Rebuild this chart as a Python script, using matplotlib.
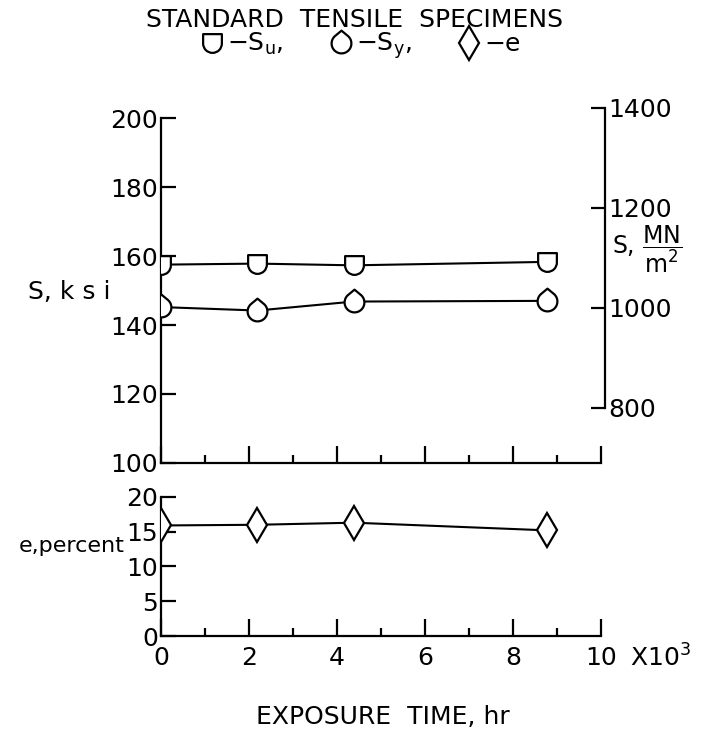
import numpy as np
import matplotlib
matplotlib.use("Agg")
import matplotlib.pyplot as plt
from matplotlib.path import Path
from matplotlib.lines import Line2D

KSI_TO_MN = 6.895

# exposure time, thousands of hours
hours_k = [0, 2.19, 4.38, 8.76]
su_ksi = [157.5, 157.8, 157.3, 158.3]
sy_ksi = [145.2, 144.2, 146.8, 147.0]
elong_pct = [15.9, 16.0, 16.3, 15.2]

x_major = [0, 2, 4, 6, 8, 10]
x_minor = [1, 3, 5, 7, 9]
ksi_ticks = [100, 120, 140, 160, 180, 200]
mn_ticks = [800, 1000, 1200, 1400]
e_ticks = [0, 5, 10, 15, 20]

plt.rcParams['font.family'] = ['DejaVu Sans']
plt.rcParams['mathtext.fontset'] = 'dejavusans'
FS = 18


def cup_marker():
    # flat top, round bottom
    arc = Path.arc(180, 360)
    verts = [(-1, 1.0), (-1, 0)] + list(arc.vertices[1:]) + [(1, 1.0), (-1, 1.0)]
    codes = [Path.MOVETO, Path.LINETO] + list(arc.codes[1:]) + [Path.LINETO, Path.CLOSEPOLY]
    return Path(verts, codes)


def drop_marker(h=1.3):
    # pointed top, round bottom (lines tangent to the circle)
    phi = np.degrees(np.arcsin(1 / h))
    arc = Path.arc(180 - phi, 360 + phi)
    top = (0, h)
    verts = [top] + list(arc.vertices) + [top]
    codes = [Path.MOVETO, Path.LINETO] + list(arc.codes[1:]) + [Path.CLOSEPOLY]
    return Path(verts, codes)


SU_M = cup_marker()
SY_M = drop_marker()
E_M = 'd'
SU_MS, SY_MS, E_MS = 13.5, 18.5, 17

fig = plt.figure(figsize=(7.02, 7.32), dpi=100)

# ---- strength panel
ax = fig.add_axes([0.2293, 0.3675, 0.627, 0.4856])
ax.set_xlim(0, 10)
ax.set_ylim(100, 1400 / KSI_TO_MN)
ax.spines['top'].set_visible(False)
ax.spines['right'].set_visible(False)
ax.spines['left'].set_bounds(100, 200)
for s in ('left', 'bottom'):
    ax.spines[s].set_linewidth(1.6)
ax.set_yticks(ksi_ticks)
ax.tick_params(axis='y', direction='in', length=11, width=1.6, pad=2, labelsize=FS)
ax.set_xticks(x_major)
ax.set_xticks(x_minor, minor=True)
ax.tick_params(axis='x', which='major', direction='in', length=12, width=1.6, labelbottom=False)
ax.tick_params(axis='x', which='minor', direction='in', length=6, width=1.6)

line_kw = dict(color='k', lw=1.5, mfc='white', mec='k', mew=1.6, zorder=3)
ax.plot(hours_k, su_ksi, marker=SU_M, ms=SU_MS, **line_kw)
ax.plot(hours_k, sy_ksi, marker=SY_M, ms=SY_MS, **line_kw)

ax2 = ax.twinx()
ax2.set_ylim(100 * KSI_TO_MN, 1400)
for s in ('top', 'left', 'bottom'):
    ax2.spines[s].set_visible(False)
ax2.spines['right'].set_bounds(800, 1400)
ax2.spines['right'].set_position(('outward', 3))
ax2.spines['right'].set_linewidth(1.6)
ax2.set_yticks(mn_ticks)
ax2.tick_params(axis='y', direction='in', length=10, width=1.6, pad=2, labelsize=FS)

# ---- elongation panel
axe = fig.add_axes([0.2293, 0.1311, 0.627, 0.19])
axe.set_xlim(0, 10)
axe.set_ylim(0, 20)
axe.spines['top'].set_visible(False)
axe.spines['right'].set_visible(False)
for s in ('left', 'bottom'):
    axe.spines[s].set_linewidth(1.6)
axe.set_yticks(e_ticks)
axe.tick_params(axis='y', direction='in', length=11, width=1.6, pad=2, labelsize=FS)
axe.set_xticks(x_major)
axe.set_xticks(x_minor, minor=True)
axe.tick_params(axis='x', which='major', direction='in', length=12, width=1.6, pad=7, labelsize=FS)
axe.tick_params(axis='x', which='minor', direction='in', length=6, width=1.6)
axe.plot(hours_k, elong_pct, marker=E_M, ms=E_MS, **line_kw)

# ---- labels
fig.text(0.04, 0.601, 'S, k s i', fontsize=FS, va='center')
fig.text(0.027, 0.254, 'e,percent', fontsize=FS - 2, va='center')
fig.text(0.872, 0.66, r'S, $\dfrac{\mathrm{MN}}{\mathrm{m^2}}$', fontsize=FS - 1, va='center')
fig.text(0.897, 0.101, r'X10$^3$', fontsize=FS, va='center')
fig.text(0.545, 0.02, 'EXPOSURE  TIME, hr', fontsize=FS, ha='center', va='center')
fig.text(0.505, 0.972, 'STANDARD  TENSILE  SPECIMENS', fontsize=FS, ha='center', va='center')

handles = [
    Line2D([], [], ls='none', marker=SU_M, ms=SU_MS, mfc='white', mec='k', mew=1.6),
    Line2D([], [], ls='none', marker=SY_M, ms=SY_MS, mfc='white', mec='k', mew=1.6),
    Line2D([], [], ls='none', marker=E_M, ms=E_MS, mfc='white', mec='k', mew=1.6),
]
fig.legend(handles, [r'$-$S$_\mathrm{u}$,', r'$-$S$_\mathrm{y}$,', r'$-$e'],
           loc='center', bbox_to_anchor=(0.515, 0.937), ncol=3, frameon=False,
           fontsize=FS, handlelength=0.8, handletextpad=0.2, columnspacing=1.9)

fig.savefig('out.png', dpi=100)
